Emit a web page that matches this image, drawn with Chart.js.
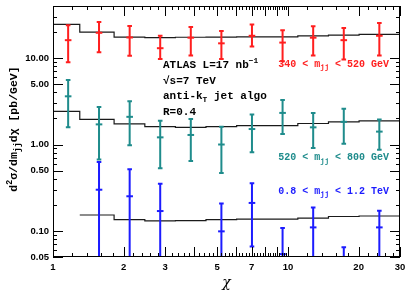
<!DOCTYPE html>
<html><head><meta charset="utf-8">
<script src="https://cdn.jsdelivr.net/npm/chart.js@4.4.1/dist/chart.umd.min.js"></script>
<style>html,body{margin:0;padding:0;background:#fff;}</style>
</head><body>
<canvas id="c" width="407" height="292"></canvas>
<script>
// ---- data ----
const binEdges   = [1, 1.3, 1.82, 2.46, 3.32, 4.48, 6.05, 8.17, 11.02, 14.88, 20.09, 30];
const chiCenters = [1.16, 1.57, 2.12, 2.86, 3.86, 5.21, 7.03, 9.49, 12.81, 17.29, 24.5];
const xTickLabels = [1, 2, 3, 5, 7, 10, 20, 30];
const yTickLabels = [0.05, 0.1, 0.5, 1, 5, 10];

const redValues = [16.1, 19.6, 17.3, 13.0, 17.2, 14.8, 18.1, 15.1, 17.2, 16.1, 18.1];
const redHigh   = [23.9, 26.1, 23.5, 18.1, 22.9, 20.6, 24.5, 21.0, 23.3, 22.3, 25.5];
const redLow    = [8.95, 11.7, 10.6, 9.75, 10.7, 9.75, 13.6, 9.2, 10.7, 9.6, 10.7];
const redTheory = [24.5, 19.9, 17.5, 17.2, 17.4, 17.5, 17.6, 17.6, 18.1, 18.4, 18.8];

const tealValues = [3.61, 1.71, 2.09, 1.21, 1.29, 1.00, 1.51, 2.32, 1.58, 1.83, 1.41];
const tealHigh   = [5.59, 2.71, 3.17, 1.88, 1.97, 1.61, 2.22, 3.28, 2.32, 2.59, 1.95];
const tealLow    = [1.58, 0.67, 0.98, 0.533, 0.645, 0.467, 0.816, 1.32, 0.913, 1.02, 0.87];
const tealTheory = [2.42, 1.95, 1.73, 1.61, 1.58, 1.61, 1.65, 1.65, 1.75, 1.83, 1.88];

const blueValues = [null, 0.30, 0.252, 0.170, null, 0.099, 0.211, 0.054, 0.110, 0.035, 0.110];
const blueHigh   = [null, 0.628, 0.519, 0.351, null, 0.208, 0.356, 0.108, 0.187, 0.065, 0.171];
const blueLow    = [null, 0.01, 0.01, 0.01, null, 0.01, 0.066, 0.01, 0.01, 0.01, 0.01];
const blueTheory = [null, 0.153, 0.135, 0.131, 0.132, 0.135, 0.137, 0.137, 0.141, 0.147, 0.149];

const RED = '#ff1f1f', TEAL = '#1f8c8c', BLUE = '#1c1cff', LINE = '#1a1a1a';
const MONO = "'Liberation Mono','DejaVu Sans Mono',monospace";

// ---- helpers ----
function stepPoints(vals) {
  const pts = [];
  vals.forEach((v, i) => {
    if (v == null) return;
    pts.push({x: binEdges[i], y: v});
    pts.push({x: binEdges[i + 1], y: v});
  });
  return pts;
}
function centerPoints(vals) {
  return vals.map((v, i) => v == null ? null : ({x: chiCenters[i], y: v})).filter(p => p);
}
const series = [
  {color: RED, hi: redHigh, lo: redLow},
  {color: TEAL, hi: tealHigh, lo: tealLow},
  {color: BLUE, hi: blueHigh, lo: blueLow}
];

// tick mark positions for the frame
const xMarks = [];
for (let k = 6; k <= 50; k++) xMarks.push(k / 5);          // 1.2 .. 10 step 0.2
for (let k = 6; k <= 15; k++) xMarks.push(k * 2);          // 12 .. 30 step 2
const yMarks = [];
[0.01, 0.1, 1, 10].forEach(d => { for (let m = 1; m <= 9; m++) yMarks.push(+(m * d).toPrecision(3)); });
const yLong = [0.05, 0.1, 0.5, 1, 5, 10];

const framePlugin = {
  id: 'frame',
  afterDatasetsDraw(chart) {
    const {ctx, chartArea: a, scales: {x, y}} = chart;
    // error bars
    ctx.save();
    ctx.beginPath(); ctx.rect(a.left, a.top, a.right - a.left, a.bottom - a.top); ctx.clip();
    series.forEach(s => {
      ctx.strokeStyle = s.color; ctx.lineWidth = 2;
      s.hi.forEach((h, i) => {
        if (h == null) return;
        const px = x.getPixelForValue(chiCenters[i]);
        const pt = y.getPixelForValue(h), pb = y.getPixelForValue(s.lo[i]);
        ctx.beginPath();
        ctx.moveTo(px, pt); ctx.lineTo(px, pb);
        ctx.moveTo(px - 2.3, pt); ctx.lineTo(px + 2.3, pt);
        ctx.moveTo(px - 2.3, pb); ctx.lineTo(px + 2.3, pb);
        ctx.stroke();
      });
    });
    ctx.restore();
    // frame + inward ticks
    ctx.save();
    ctx.strokeStyle = '#000'; ctx.lineWidth = 1;
    ctx.strokeRect(a.left + 0.5, a.top + 0.5, a.right - a.left - 1, a.bottom - a.top - 1);
    ctx.beginPath();
    xMarks.forEach(v => {
      const px = Math.round(x.getPixelForValue(v)) + 0.5;
      const isLong = Math.abs(v - Math.round(v)) < 1e-6 && (v <= 10 || v === 20 || v === 30);
      const L = isLong ? 10 : 4;
      ctx.moveTo(px, a.bottom); ctx.lineTo(px, a.bottom - L);
      ctx.moveTo(px, a.top); ctx.lineTo(px, a.top + L);
    });
    yMarks.forEach(v => {
      if (v < 0.05 || v > 40) return;
      const py = Math.round(y.getPixelForValue(v)) + 0.5;
      const L = yLong.includes(v) ? 10 : 4;
      ctx.moveTo(a.left, py); ctx.lineTo(a.left + L, py);
      ctx.moveTo(a.right, py); ctx.lineTo(a.right - L, py);
    });
    ctx.stroke();
    ctx.restore();
  },
  afterDraw(chart) {
    const ctx = chart.ctx;
    function rich(parts, x0, y0, size, align, color) {
      ctx.save();
      ctx.fillStyle = color; ctx.textBaseline = 'alphabetic'; ctx.textAlign = 'left';
      const fontFor = m => 'bold ' + (m ? size * 0.72 : size) + 'px ' + MONO;
      let total = 0;
      parts.forEach(([t, m]) => { ctx.font = fontFor(m); total += ctx.measureText(t).width; });
      let xx = align === 'right' ? x0 - total : align === 'center' ? x0 - total / 2 : x0;
      parts.forEach(([t, m]) => {
        ctx.font = fontFor(m);
        const dy = m === 'sub' ? size * 0.28 : m === 'sup' ? -size * 0.42 : 0;
        ctx.fillText(t, xx, y0 + dy);
        xx += ctx.measureText(t).width;
      });
      ctx.restore();
    }
    // y-axis title (rotated)
    ctx.save();
    ctx.translate(17, 129);
    ctx.rotate(-Math.PI / 2);
    rich([['d', ''], ['2', 'sup'], ['σ/dm', ''], ['jj', 'sub'], ['dχ [pb/GeV]', '']], 0, 0, 11.5, 'center', '#000');
    ctx.restore();
    // annotation
    rich([['ATLAS L=17 nb', ''], ['−1', 'sup']], 163, 68, 11, 'left', '#000');
    rich([['√s=7 TeV', '']], 163, 83.5, 11, 'left', '#000');
    rich([['anti-k', ''], ['T', 'sub'], [' jet algo', '']], 163, 99, 11, 'left', '#000');
    rich([['R=0.4', '']], 163, 114.5, 11, 'left', '#000');
    // series labels
    rich([['340 < m', ''], ['jj', 'sub'], [' < 520 GeV', '']], 389, 66.5, 10, 'right', RED);
    rich([['520 < m', ''], ['jj', 'sub'], [' < 800 GeV', '']], 389, 160, 10, 'right', TEAL);
    rich([['0.8 < m', ''], ['jj', 'sub'], [' < 1.2 TeV', '']], 389, 193.5, 10, 'right', BLUE);
  }
};

const theoryDs = vals => ({type: 'scatter', data: stepPoints(vals), showLine: true, borderColor: LINE,
  borderWidth: 1.2, pointRadius: 0, clip: 0, order: 2});
const pointDs = (vals, c) => ({type: 'scatter', data: centerPoints(vals), pointStyle: 'line', pointRadius: 3.3,
  borderWidth: 2, borderColor: c, backgroundColor: c, clip: 0, order: 1});

new Chart(document.getElementById('c'), {
  type: 'scatter',
  data: {datasets: [
    theoryDs(redTheory), theoryDs(tealTheory), theoryDs(blueTheory),
    pointDs(redValues, RED), pointDs(tealValues, TEAL), pointDs(blueValues, BLUE)
  ]},
  options: {
    responsive: false, animation: false, devicePixelRatio: 1,
    layout: {padding: {left: 0, right: 7, top: 2, bottom: 0}},
    plugins: {legend: {display: false}, tooltip: {enabled: false}},
    scales: {
      x: {
        type: 'logarithmic', min: 1, max: 30,
        afterBuildTicks: s => { s.ticks = xTickLabels.map(v => ({value: v})); },
        afterFit: s => { s.height = 35; s.paddingLeft = 0; s.paddingRight = 0; },
        ticks: {autoSkip: false, maxRotation: 0, minRotation: 0, padding: 5, color: '#000',
          font: {family: "'Liberation Sans',Arial,sans-serif", weight: 'bold', size: 9.5},
          callback: v => String(v)},
        grid: {display: false, drawTicks: false}, border: {display: false},
        title: {display: true, text: 'χ', color: '#000', padding: {top: 0, bottom: 0},
          font: {family: "'DejaVu Serif',serif", size: 14, style: 'italic'}}
      },
      y: {
        type: 'logarithmic', min: 0.05, max: 40,
        afterBuildTicks: s => { s.ticks = yTickLabels.map(v => ({value: v})); },
        afterFit: s => { s.width = 53; s.paddingTop = 0; s.paddingBottom = 0; },
        ticks: {autoSkip: false, padding: 4, color: '#000',
          font: {family: "'Liberation Sans',Arial,sans-serif", weight: 'bold', size: 9.5},
          callback: v => Number(v).toFixed(2)},
        grid: {display: false, drawTicks: false}, border: {display: false}
      }
    }
  },
  plugins: [framePlugin]
});
</script>
</body></html>
